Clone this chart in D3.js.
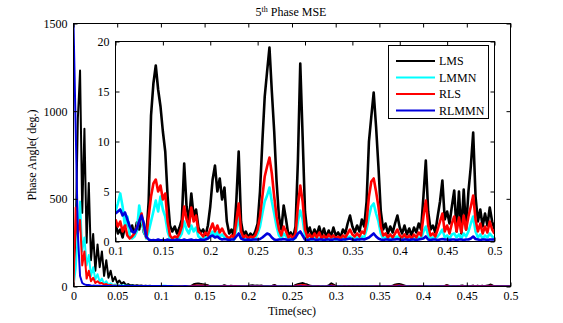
<!DOCTYPE html>
<html>
<head>
<meta charset="utf-8">
<script src="https://cdn.jsdelivr.net/npm/d3@7"></script>
<style>
  body { margin: 0; background: #fff; }
  svg { display: block; }
  text { font-family: "Liberation Serif", "Times New Roman", serif; font-size: 12px; fill: #000; }
</style>
</head>
<body>
<svg id="chart" width="563" height="323"></svg>
<script>
// Sampling interval of the error traces (seconds)
const sampleStep = 0.0025;

const seriesNames = ["LMS", "LMMN", "RLS", "RLMMN"];
const seriesColors = ["#000000", "#00ffff", "#ff0000", "#0000dd"];

// Phase-angle MSE (deg.) for each estimator, one sample every 2.5 ms from 0 to 0.5 s
const lms = [
  50, 300, 960, 1232, 420, 900, 250, 590, 150, 300,
  90, 240, 110, 200, 60, 150, 50, 90, 30, 55,
  20, 34, 15, 25, 8, 14, 6, 9, 5, 7,
  4, 6, 3, 5, 2.5, 4, 2, 3, 1.5, 2.5,
  1.8, 0.8, 1.2, 0.4, 1.5, 2.3, 1.0, 1.6, 0.6, 1.9,
  1.2, 2.4, 0.9, 0.5, 4.0, 12.6, 15.8, 17.6, 15.2, 13.5,
  11.0, 9.0, 4.5, 1.6, 1.0, 1.5, 0.8, 1.4, 2.2, 7.8,
  3.5, 2.0, 4.8, 2.5, 3.2, 1.4, 0.9, 1.2, 0.6, 1.6,
  3.5, 6.2, 7.6, 5.0, 6.3, 4.2, 5.4, 2.0, 0.8, 1.2,
  0.5, 4.0, 9.0, 2.0, 0.6, 1.0, 0.4, 0.8, 0.5, 1.0,
  1.8, 5.0, 10.0, 14.5, 17.0, 19.4, 15.0, 11.0, 6.0, 2.5,
  1.2, 3.6, 2.2, 0.6, 0.9, 0.4, 1.5, 8.0, 17.8, 10.5,
  3.0, 0.8, 1.4, 0.5, 1.2, 0.7, 1.5, 0.6, 1.3, 0.4,
  1.1, 0.5, 1.4, 0.6, 0.9, 0.4, 1.2, 0.8, 1.8, 2.6,
  1.5, 0.9, 1.6, 1.0, 2.2, 1.5, 4.0, 10.0, 12.5, 14.9,
  11.5, 7.5, 3.0, 1.2, 1.8, 0.8, 1.5, 0.9, 1.8, 2.6,
  1.4, 0.8, 1.6, 0.7, 1.3, 0.6, 1.4, 0.9, 1.8, 1.2,
  4.5, 8.1, 3.0, 1.2, 1.6, 0.9, 2.5, 4.0, 6.1, 2.2,
  3.0, 1.8, 3.5, 5.1, 1.0, 5.0, 0.8, 5.2, 1.2, 5.0,
  7.5, 10.9, 4.5, 2.0, 3.2, 1.5, 2.8, 1.6, 3.4, 2.0,
  1.2
];

const lmmn = [
  0, 100, 300, 485, 200, 280, 120, 180, 60, 110,
  40, 70, 25, 45, 15, 30, 10, 18, 8, 12,
  6, 7, 5, 5.5, 4, 4.5, 3.5, 4, 3, 3.5,
  2.8, 3.2, 2.5, 3.0, 2.4, 2.8, 2.2, 3.0, 2.5, 3.2,
  3.0, 3.8, 4.8, 3.5, 1.5, 2.5, 0.6, 0.3, 0.5, 1.0,
  3.6, 2.2, 1.0, 0.3, 1.0, 2.0, 3.0, 4.1, 3.0, 4.5,
  3.2, 2.5, 1.0, 0.3, 0.2, 0.3, 0.2, 0.4, 0.8, 2.0,
  1.2, 0.8, 1.6, 1.0, 1.4, 0.5, 0.3, 0.2, 0.4, 0.3,
  0.6, 1.0, 0.6, 0.9, 0.5, 0.7, 0.4, 0.3, 0.2, 0.3,
  0.2, 1.2, 2.5, 0.6, 0.2, 0.3, 0.2, 0.3, 0.2, 0.3,
  0.8, 1.5, 2.8, 4.0, 4.6, 5.4, 4.0, 2.8, 1.5, 0.6,
  0.3, 0.8, 0.5, 0.2, 0.3, 0.2, 0.4, 2.0, 3.1, 2.2,
  0.6, 0.2, 0.3, 0.2, 0.4, 0.2, 0.3, 0.2, 0.4, 0.2,
  0.3, 0.2, 0.4, 0.2, 0.3, 0.2, 0.3, 0.2, 0.4, 0.5,
  0.3, 0.2, 0.4, 0.2, 0.5, 0.4, 1.2, 2.5, 3.5, 3.8,
  2.8, 2.0, 0.8, 0.3, 0.4, 0.2, 0.3, 0.2, 0.4, 0.5,
  0.3, 0.2, 0.4, 0.2, 0.3, 0.2, 0.3, 0.2, 0.4, 0.3,
  1.0, 1.5, 0.6, 0.3, 0.4, 0.3, 0.5, 0.8, 1.2, 0.4,
  0.6, 0.3, 0.7, 0.8, 0.4, 0.7, 0.3, 0.8, 0.5, 1.0,
  1.8, 2.5, 1.0, 0.4, 0.7, 0.3, 0.6, 0.4, 0.8, 0.5,
  0.3
];

const rls = [
  0, 450, 300, 380, 120, 200, 45, 90, 30, 50,
  20, 30, 18, 20, 10, 14, 7, 8, 5, 6,
  4, 5, 3, 3.5, 2.5, 3, 2, 2.5, 1.8, 2.2,
  1.5, 2, 1.2, 1.8, 1.0, 1.5, 1.2, 1.8, 1.4, 2.0,
  2.2, 1.5, 2.0, 1.0, 1.6, 0.6, 0.3, 0.5, 0.8, 1.4,
  2.0, 2.8, 1.5, 0.4, 2.5, 4.5, 5.8, 6.2, 5.0, 5.6,
  4.2, 4.8, 2.0, 0.6, 0.3, 0.5, 0.4, 0.8, 1.5, 3.5,
  2.2, 1.5, 3.4, 2.0, 2.6, 1.0, 0.8, 0.5, 0.9, 0.6,
  1.2, 1.8, 1.0, 1.6, 0.9, 1.3, 0.8, 0.5, 0.3, 0.6,
  0.4, 2.0, 3.8, 1.0, 0.4, 0.6, 0.3, 0.5, 0.4, 0.6,
  1.2, 2.5, 4.5, 6.5, 7.5, 8.4, 6.8, 4.5, 2.5, 1.2,
  0.6, 1.5, 1.0, 0.4, 0.6, 0.3, 0.8, 3.5, 5.6, 4.0,
  1.2, 0.4, 0.7, 0.3, 0.8, 0.4, 0.9, 0.3, 0.6, 0.3,
  0.7, 0.4, 0.6, 0.3, 0.5, 0.3, 0.6, 0.4, 0.8, 1.2,
  0.7, 0.5, 0.8, 0.5, 1.0, 0.8, 2.0, 4.5, 6.0, 6.3,
  5.0, 3.5, 1.5, 0.6, 0.8, 0.4, 0.7, 0.4, 0.8, 1.2,
  0.6, 0.4, 0.7, 0.3, 0.6, 0.3, 0.7, 0.4, 0.9, 0.6,
  2.5, 4.1, 1.6, 0.6, 0.8, 0.5, 1.2, 2.0, 2.8, 1.0,
  1.6, 0.8, 1.8, 2.5, 1.0, 2.4, 0.9, 2.6, 1.2, 2.5,
  3.5, 4.6, 2.2, 1.0, 1.8, 0.8, 1.5, 0.9, 2.0, 1.2,
  0.8
];

const rlmmn = [
  1500, 900, 300, 60, 20, 12, 9, 8, 6, 5,
  4.5, 4, 3.8, 3.5, 3.4, 3.3, 3.2, 3.1, 3.0, 3.0,
  2.9, 3.1, 2.8, 3.0, 2.9, 3.2, 2.8, 3.0, 2.7, 3.1,
  2.9, 3.0, 2.8, 3.1, 2.7, 3.0, 2.9, 3.2, 2.8, 3.0,
  2.8, 3.0, 3.2, 2.6, 2.9, 2.2, 1.5, 1.0, 0.9, 1.3,
  2.0, 2.6, 1.8, 0.5, 0.2, 0.1, 0.15, 0.1, 0.2, 0.1,
  0.15, 0.1, 0.2, 0.1, 0.15, 0.1, 0.2, 0.15, 0.1, 0.2,
  0.1, 0.15, 0.2, 0.1, 0.15, 0.1, 0.2, 0.15, 0.2, 0.3,
  0.5, 0.6, 0.4, 0.5, 0.3, 0.2, 0.25, 0.2, 0.15, 0.2,
  0.2, 0.5, 0.8, 0.3, 0.2, 0.15, 0.2, 0.15, 0.2, 0.2,
  0.2, 0.25, 0.4, 0.6, 0.8, 0.7, 0.4, 0.2, 0.15, 0.2,
  0.2, 0.25, 0.2, 0.15, 0.2, 0.2, 0.4, 0.8, 1.0, 0.6,
  0.2, 0.15, 0.2, 0.25, 0.2, 0.15, 0.2, 0.2, 0.15, 0.2,
  0.2, 0.15, 0.2, 0.25, 0.2, 0.15, 0.2, 0.2, 0.25, 0.3,
  0.2, 0.15, 0.2, 0.2, 0.25, 0.2, 0.3, 0.4, 0.6, 0.8,
  0.5, 0.3, 0.2, 0.15, 0.2, 0.2, 0.15, 0.2, 0.2, 0.25,
  0.2, 0.15, 0.2, 0.2, 0.15, 0.2, 0.2, 0.15, 0.2, 0.25,
  0.3, 0.5, 0.2, 0.15, 0.2, 0.2, 0.15, 0.2, 0.25, 0.2,
  0.2, 0.15, 0.2, 0.2, 0.15, 0.2, 0.2, 0.15, 0.2, 0.2,
  0.3, 0.5, 0.25, 0.2, 0.15, 0.2, 0.2, 0.15, 0.2, 0.2,
  0.2
];

// Tick values
const mainXTicks = [0, 0.05, 0.1, 0.15, 0.2, 0.25, 0.3, 0.35, 0.4, 0.45, 0.5];
const mainYTicks = [0, 500, 1000, 1500];
const insetXTicks = [0.1, 0.15, 0.2, 0.25, 0.3, 0.35, 0.4, 0.45, 0.5];
const insetYTicks = [0, 5, 10, 15, 20];

const allSeries = [lms, lmmn, rls, rlmmn];

const svg = d3.select("#chart");
const fmt = d3.format("~g");

// Geometry of the two axes boxes
const main = { left: 73.5, right: 510.5, top: 23.5, bottom: 286.5 };
const inset = { left: 115.5, right: 494.5, top: 41.5, bottom: 241.5 };

const xMain = d3.scaleLinear().domain([0, 0.5]).range([main.left, main.right]);
const yMain = d3.scaleLinear().domain([0, 1500]).range([main.bottom, main.top]);
const xIn = d3.scaleLinear().domain([0.1, 0.5]).range([inset.left, inset.right]);
const yIn = d3.scaleLinear().domain([0, 20]).range([inset.bottom, inset.top]);

const toPoints = arr => arr.map((v, i) => ({ t: i * sampleStep, v }));

const defs = svg.append("defs");
defs.append("clipPath").attr("id", "clipMain").append("rect")
  .attr("x", main.left).attr("y", main.top)
  .attr("width", main.right - main.left).attr("height", main.bottom - main.top);
defs.append("clipPath").attr("id", "clipInset").append("rect")
  .attr("x", inset.left).attr("y", inset.top)
  .attr("width", inset.right - inset.left).attr("height", inset.bottom - inset.top);

function drawAxes(g, box, x, y, xt, yt, tick) {
  g.append("g").attr("transform", `translate(0,${box.bottom})`)
    .call(d3.axisBottom(x).tickValues(xt).tickSize(-tick).tickPadding(5).tickFormat(fmt));
  g.append("g").attr("transform", `translate(0,${box.top})`)
    .call(d3.axisTop(x).tickValues(xt).tickSize(-tick).tickFormat(""));
  g.append("g").attr("transform", `translate(${box.left},0)`)
    .call(d3.axisLeft(y).tickValues(yt).tickSize(-tick).tickPadding(6).tickFormat(fmt));
  g.append("g").attr("transform", `translate(${box.right},0)`)
    .call(d3.axisRight(y).tickValues(yt).tickSize(-tick).tickFormat(""));
  g.selectAll(".domain").remove();
  g.selectAll(".tick line").attr("stroke", "#000");
  g.selectAll(".tick text").style("font-family", '"Liberation Serif", serif').style("font-size", "12px");
  g.append("rect")
    .attr("x", box.left).attr("y", box.top)
    .attr("width", box.right - box.left).attr("height", box.bottom - box.top)
    .attr("fill", "none").attr("stroke", "#000").attr("stroke-width", 1);
}

// Main axes
const gMain = svg.append("g");
gMain.append("rect")
  .attr("x", main.left).attr("y", main.top)
  .attr("width", main.right - main.left).attr("height", main.bottom - main.top)
  .attr("fill", "#fff");

const lineMain = d3.line().x(d => xMain(d.t)).y(d => yMain(d.v));
const mainLines = gMain.append("g").attr("clip-path", "url(#clipMain)");
allSeries.forEach((arr, k) => {
  mainLines.append("path").datum(toPoints(arr))
    .attr("d", lineMain).attr("fill", "none")
    .attr("stroke", seriesColors[k]).attr("stroke-width", 2)
    .attr("stroke-linejoin", "round");
});
drawAxes(gMain, main, xMain, yMain, mainXTicks, mainYTicks, 4);

// Title and axis labels
const title = svg.append("text").attr("x", 291).attr("y", 16).attr("text-anchor", "middle");
title.append("tspan").text("5");
title.append("tspan").attr("dy", -4).style("font-size", "8px").text("th");
title.append("tspan").attr("dy", 4).text(" Phase MSE");

svg.append("text").attr("x", 292).attr("y", 315).attr("text-anchor", "middle").text("Time(sec)");
svg.append("text").attr("transform", "translate(36,155) rotate(-90)")
  .attr("text-anchor", "middle").text("Phase Angle( deg.)");

// Inset zoom on 0.1 – 0.5 s
const gIn = svg.append("g");
gIn.append("rect")
  .attr("x", inset.left).attr("y", inset.top)
  .attr("width", inset.right - inset.left).attr("height", inset.bottom - inset.top)
  .attr("fill", "#fff");
const lineIn = d3.line().x(d => xIn(d.t)).y(d => yIn(d.v));
const inLines = gIn.append("g").attr("clip-path", "url(#clipInset)");
allSeries.forEach((arr, k) => {
  inLines.append("path").datum(toPoints(arr).filter(d => d.t >= 0.1 - 1e-9))
    .attr("d", lineIn).attr("fill", "none")
    .attr("stroke", seriesColors[k]).attr("stroke-width", 2.6)
    .attr("stroke-linejoin", "round");
});
drawAxes(gIn, inset, xIn, yIn, insetXTicks, insetYTicks, 4);

// Legend
const leg = svg.append("g");
leg.append("rect").attr("x", 388.5).attr("y", 45.5).attr("width", 100).attr("height", 73)
  .attr("fill", "#fff").attr("stroke", "#000");
seriesNames.forEach((name, k) => {
  const yy = 61 + k * 16.5;
  leg.append("line").attr("x1", 396).attr("x2", 435).attr("y1", yy).attr("y2", yy)
    .attr("stroke", seriesColors[k]).attr("stroke-width", 2);
  leg.append("text").attr("x", 439).attr("y", yy + 4).text(name);
});
</script>
</body>
</html>
